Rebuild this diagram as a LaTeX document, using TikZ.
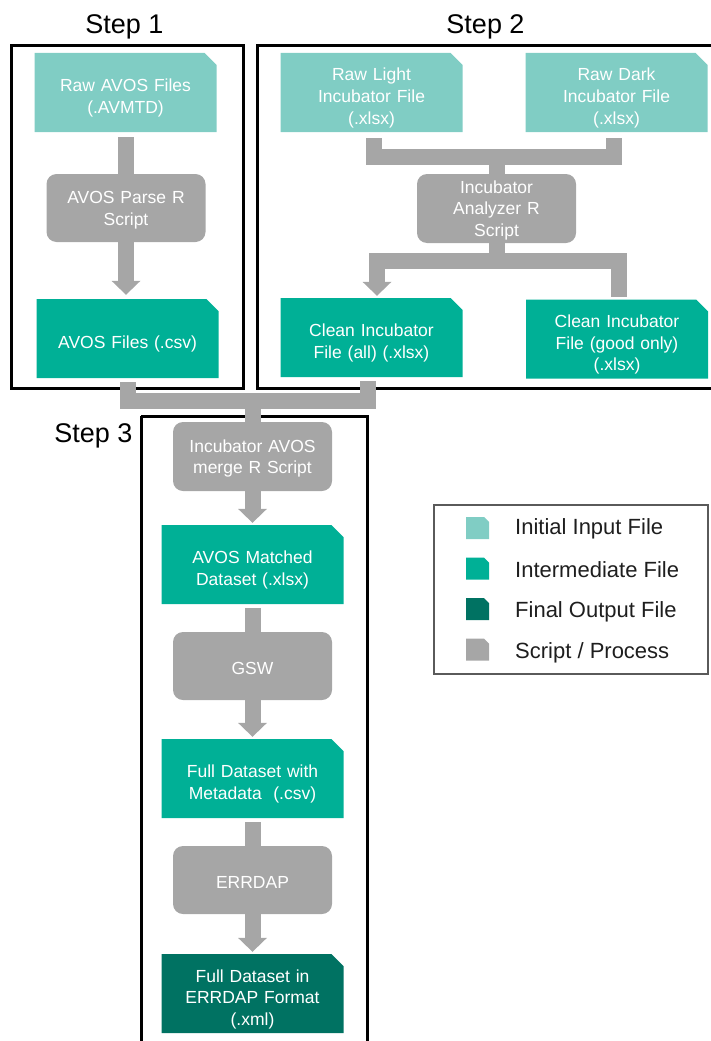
\documentclass[tikz,border=0pt]{standalone}
\usepackage{fontspec}
\setmainfont{Liberation Sans}
\usepackage{tikz}
\usetikzlibrary{arrows.meta}
\usetikzlibrary{positioning}

\definecolor{cInit}{RGB}{128,205,196}
\definecolor{cMid}{RGB}{0,176,150}
\definecolor{cFinal}{RGB}{0,114,98}
\definecolor{cGray}{RGB}{166,166,166}

% file with a clipped top right corner
\newcommand{\dogear}[2]{\fill[#1] (path picture bounding box.south west)
  -- (path picture bounding box.north west)
  -- ([xshift=-#2]path picture bounding box.north east)
  -- ([yshift=-#2]path picture bounding box.north east)
  -- (path picture bounding box.south east) -- cycle;}

\begin{document}
\begin{tikzpicture}[x=1pt, y=-1pt]
	\tikzstyle{txt}=[text=white, align=center, inner sep=0pt,
	                 font=\fontsize{17.5}{21.7}\selectfont];
	\tikzstyle{file}=[txt, minimum width=182pt, minimum height=79pt, text width=176pt,
	                  execute at begin node={\rule{0pt}{24pt}}];
	\tikzstyle{init}=[file, path picture={\dogear{cInit}{12pt}}];
	\tikzstyle{mid}=[file, path picture={\dogear{cMid}{12pt}}];
	\tikzstyle{final}=[file, path picture={\dogear{cFinal}{12pt}}];
	\tikzstyle{script}=[txt, fill=cGray, rounded corners=10pt, text width=155pt,
	                    minimum width=159pt, minimum height=68pt,
	                    execute at begin node={\rule{0pt}{16.5pt}}];
	\tikzstyle{frame}=[draw=black, line width=3pt];
	\tikzstyle{steplabel}=[anchor=base, inner sep=0pt, font=\fontsize{27}{30}\selectfont];
	\tikzstyle{pipe}=[draw=cGray, line width=16pt, line join=miter];
	\tikzstyle{flow}=[pipe, -{Triangle[length=14pt, width=29pt, line width=0pt]}];
	\useasboundingbox (0,0) rectangle (710,1041);

	% step frames
	\draw[frame] (11,46) rectangle (243,388);
	\draw[frame] (257,46) rectangle (718,388);
	\draw[frame] (141,416) -- (141,1046);
	\draw[frame] (141,416) -- (367,416) -- (367,1046);
	\node[steplabel] (s1) at (124.5,34) {Step 1};
	\node[steplabel] (s2) at (485.5,34) {Step 2};
	\node[steplabel] (s3) at (93.5,442) {Step 3};

	% step 1
	\node[init] (raw) at (125.5,92.5) {Raw AVOS Files\\(.AVMTD)};
	\node[script] (parse) at (126,208) {AVOS Parse R\\Script};
	\node[mid] (csv) at (127.5,338.5) {AVOS Files (.csv)};

	% step 2
	\node[init] (light) at (371.5,92.5) {Raw Light\\Incubator File\\(.xlsx)};
	\node[init] (dark) at (616.5,92.5) {Raw Dark\\Incubator File\\(.xlsx)};
	\node[script, minimum height=69pt] (ana) at (496.5,208.5) {Incubator\\Analyzer R\\Script};
	\node[mid] (cleanall) at (371.5,337.5) {Clean Incubator\\File (all) (.xlsx)};
	\node[mid] (good) at (617,339) {Clean Incubator\\File (good only)\\(.xlsx)};

	% step 3
	\node[script, minimum height=69pt] (merge) at (252.5,456.5) {Incubator AVOS\\merge R Script};
	\node[mid] (matched) at (252.5,564.5) {AVOS Matched\\Dataset (.xlsx)};
	\node[script] (gsw) at (252.5,666) {GSW};
	\node[mid] (full) at (252.5,778.5) {Full Dataset with\\Metadata\ \ (.csv)};
	\node[script] (errdap) at (252.5,880) {ERRDAP};
	\node[final] (out) at (252.5,993.5) {Full Dataset in\\ERRDAP Format\\(.xml)};

	\coordinate (j2a) at (496.5,156.5);
	\coordinate (j2b) at (496.5,261);
	\coordinate (j3) at (252.5,400.5);

	% connectors
	\draw[pipe, shorten <=5pt] (parse.north |- raw.south) -- (parse.north);
	\draw[flow, shorten >=4pt] (parse.south) -- (parse.south |- csv.north);
	\draw[pipe, shorten <=6pt, shorten >=6pt]
	  ([xshift=2.5pt]light.south) |- (j2a) -| ([xshift=-2.5pt]dark.south);
	\draw[pipe] (j2a) -- (ana.north);
	\draw[pipe] (ana.south) -- (j2b);
	\draw[flow, {Triangle[length=14pt, width=29pt, line width=0pt]}-, shorten <=2pt, shorten >=2pt]
	  ([xshift=5.5pt]cleanall.north) |- (j2b) -| ([xshift=2pt]good.north);
	\draw[pipe, shorten <=4pt, shorten >=4pt]
	  (csv.south) |- (j3) -| ([xshift=-3.5pt]cleanall.south);
	\draw[pipe] (j3) -- (merge.north);
	\draw[flow, shorten >=2pt] (merge) -- (matched);
	\draw[pipe, shorten <=4pt] (matched) -- (gsw);
	\draw[flow, shorten >=2pt] (gsw) -- (full);
	\draw[pipe, shorten <=4pt] (full) -- (errdap);
	\draw[flow, shorten >=2pt] (errdap) -- (out);

	% legend
	\node[draw={rgb,255:red,90;green,90;blue,90}, line width=1.2pt, minimum width=274pt,
	      minimum height=169pt, inner sep=0pt] (key) at (571,589.5) {};
	\foreach \c/\t [count=\k] in {cInit/{Initial Input File}, cMid/{Intermediate File},
	                              cFinal/{Final Output File}, cGray/{Script / Process}}
	{\node[minimum width=23pt, minimum height=22pt, inner sep=0pt,
	       path picture={\dogear{\c}{5pt}}] (icon\k) at (477.5,487.5+40.5*\k) {};
	 \node[anchor=west, inner sep=0pt, text={rgb,255:red,30;green,30;blue,30},
	       font=\fontsize{22}{24}\selectfont] (entry\k) at (515,487+41.5*\k) {\t};}
\end{tikzpicture}
\end{document}
